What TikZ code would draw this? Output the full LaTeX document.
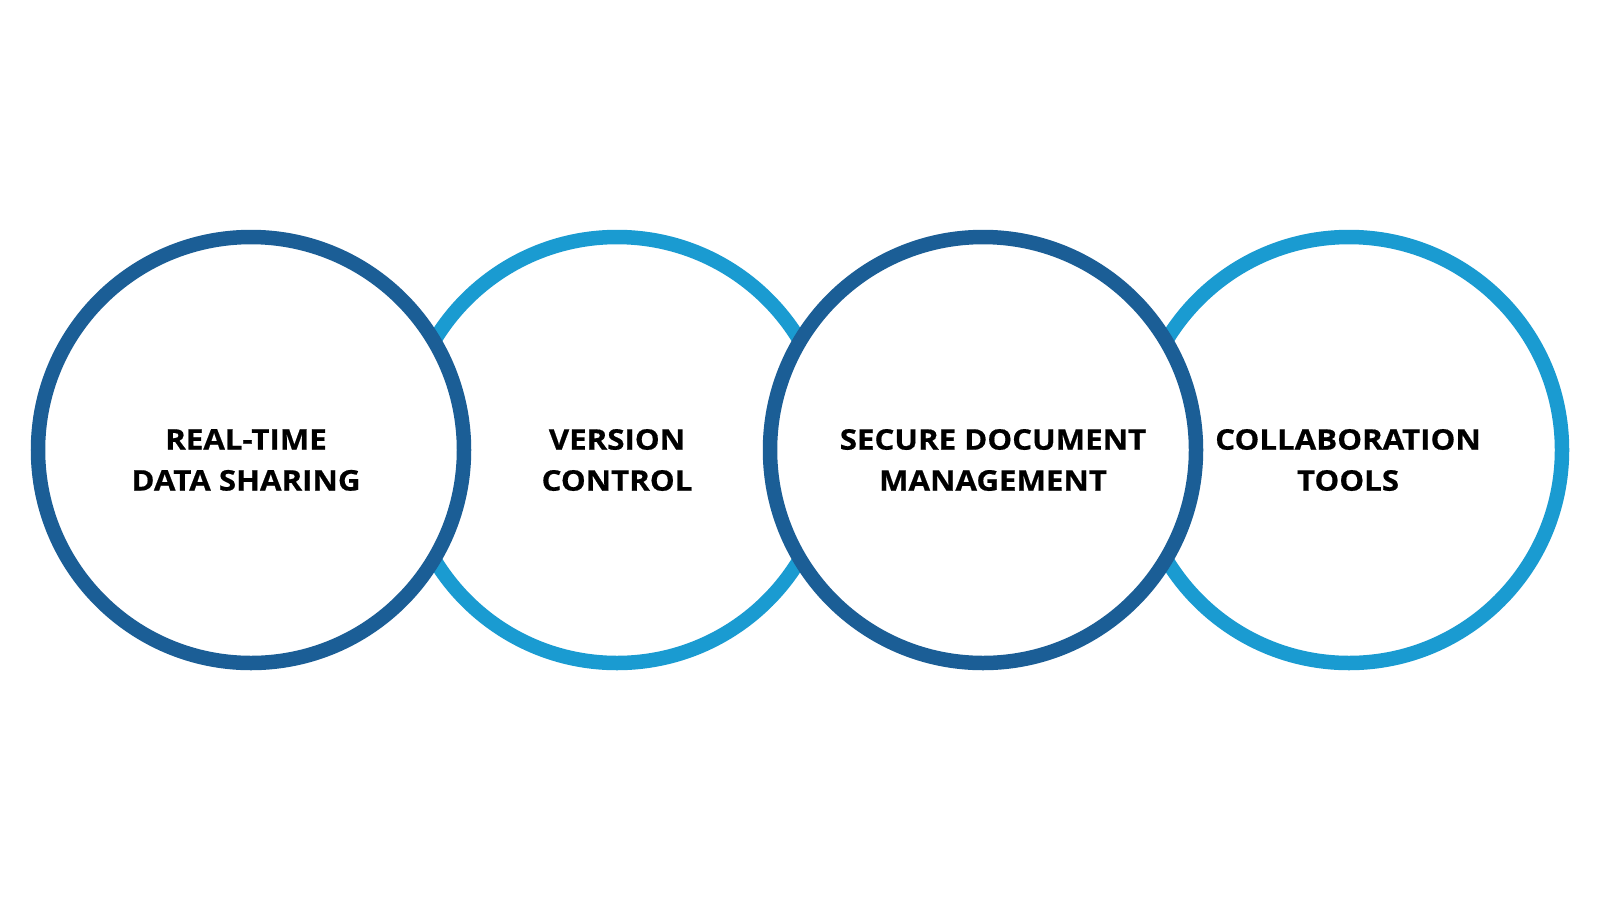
\documentclass[tikz,border=0pt]{standalone}
\usepackage{fontspec}
\setmainfont{Open Sans}[BoldFeatures={FakeStretch=1.1,FakeBold=0.6}]
\definecolor{darkblue}{HTML}{1B5E96}
\definecolor{lightblue}{HTML}{1A9BD1}
\begin{document}
\begin{tikzpicture}[x=1pt,y=-1pt,
  ring/.style={draw, fill=white, line width=14.5pt, circle, minimum size=426pt, inner sep=0pt},
  lbl/.style={font=\bfseries\fontsize{28.4}{41}\selectfont, align=center, text=black}]
\useasboundingbox (0,0) rectangle (1600,900);
\node[ring, draw=lightblue] (c2) at (617,450) {};
\node[ring, draw=lightblue] (c4) at (1349,450) {};
\node[ring, draw=darkblue] (c1) at (251,450) {};
\node[ring, draw=darkblue] (c3) at (983,450) {};
\node[lbl] (t1) at (246,460) {REAL-TIME\\DATA SHARING};
\node[lbl] (t2) at (617,460) {VERSION\\CONTROL};
\node[lbl] (t3) at (993,460) {SECURE DOCUMENT\\MANAGEMENT};
\node[lbl] (t4) at (1348,460) {COLLABORATION\\TOOLS};
\end{tikzpicture}
\end{document}
